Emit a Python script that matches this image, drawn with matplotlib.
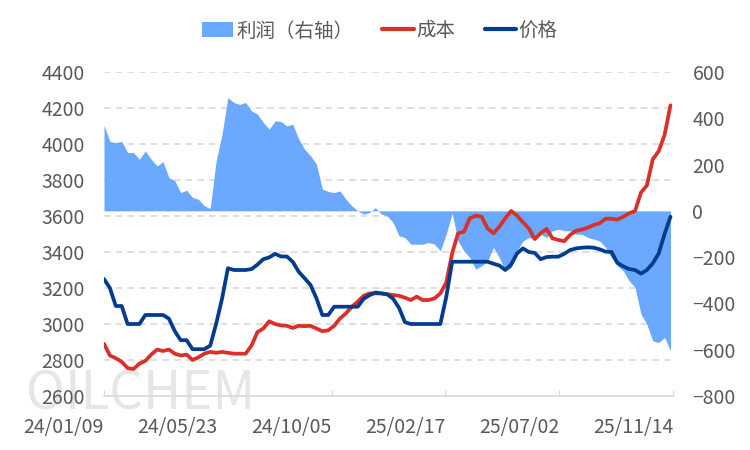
import numpy as np
import pandas as pd
import matplotlib
matplotlib.use("Agg")
import matplotlib.pyplot as plt
from matplotlib.patches import Patch
from matplotlib.lines import Line2D

plt.rcParams['font.family'] = ['Noto Sans CJK SC', 'DejaVu Sans']

# weekly samples
dates = pd.date_range('2024-01-09', periods=97, freq='7D')

profit = [370, 300, 295, 300, 252, 252, 223, 259, 223, 194,
          213, 144, 130, 79, 89, 58, 50, 22, 10, 215,
          331, 490, 468, 460, 468, 432, 418, 382, 353, 389,
          386, 367, 374, 310, 266, 238, 202, 94, 84, 79,
          86, 50, 22, 0, -14, -7, 14, -14, -22, -50,
          -108, -115, -144, -144, -144, -137, -144, -173, -100, -10,
          -130, -173, -202, -252, -238, -216, -158, -202, -259, -245,
          -173, -130, -115, -122, -101, -115, -86, -79, -86, -86,
          -101, -101, -115, -122, -130, -158, -202, -238, -259, -302,
          -331, -446, -490, -562, -569, -547, -605]

cost = [2890, 2825, 2810, 2790, 2755, 2750, 2780, 2795, 2830, 2858,
        2850, 2858, 2835, 2825, 2830, 2800, 2815, 2835, 2845, 2840,
        2845, 2840, 2835, 2835, 2835, 2880, 2955, 2975, 3015, 3000,
        2992, 2990, 2978, 2990, 2988, 2990, 2975, 2960, 2965, 2990,
        3031, 3059, 3096, 3124, 3157, 3170, 3170, 3170, 3165, 3161,
        3157, 3146, 3133, 3152, 3133, 3133, 3142, 3170, 3230, 3393,
        3504, 3513, 3587, 3602, 3596, 3531, 3504, 3541, 3587, 3628,
        3602, 3565, 3531, 3472, 3504, 3528, 3476, 3467, 3460, 3495,
        3518, 3525, 3535, 3550, 3560, 3585, 3585, 3580, 3596, 3615,
        3628, 3730, 3770, 3915, 3960, 4050, 4215]

price = [3250, 3200, 3100, 3100, 3000, 3000, 3000, 3050, 3050, 3050,
         3050, 3030, 2960, 2910, 2910, 2860, 2860, 2860, 2880, 3000,
         3140, 3310, 3300, 3300, 3300, 3305, 3330, 3360, 3370, 3390,
         3375, 3375, 3345, 3290, 3254, 3217, 3143, 3050, 3050, 3096,
         3096, 3096, 3096, 3096, 3140, 3160, 3175, 3170, 3165, 3140,
         3090, 3010, 3000, 3000, 3000, 3000, 3000, 3000, 3150, 3346,
         3346, 3346, 3346, 3346, 3346, 3346, 3335, 3325, 3300, 3330,
         3392, 3420, 3400, 3395, 3360, 3372, 3374, 3374, 3390, 3411,
         3420, 3424, 3426, 3424, 3415, 3402, 3400, 3340, 3320, 3305,
         3300, 3280, 3300, 3337, 3392, 3500, 3596]

tick_dates = pd.date_range('2024-01-09', periods=6, freq='135D')
tick_labels = [d.strftime('%y/%m/%d') for d in tick_dates]

c_area = '#6aa9ff'
c_cost = '#d9302a'
c_price = '#023c8c'
c_text = '#595959'

fig = plt.figure(figsize=(7.5, 4.5), dpi=100)

# watermark, kept under everything else
fig.text(26/750, 1-410/450, 'OILCHEM', fontsize=38, color='#e6e6e6', zorder=-5)

ax = fig.add_axes([104/750, 1-396/450, (673-104)/750, 324/450])
ax2 = ax.twinx()
ax3 = ax.twinx()

# left axis: grid + labels
ax.set_ylim(2600, 4400)
ax.set_yticks(np.arange(2600, 4401, 200))
ax.yaxis.grid(True, color='#d9d9d9', linestyle=(0, (4, 3)), linewidth=1.2)
ax.set_xlim(tick_dates[0], tick_dates[-1])
ax.set_xticks(tick_dates)
ax.set_xticklabels(tick_labels, ha='right')
ax.tick_params(axis='x', direction='in', length=4, color='#d9d9d9', labelsize=14, labelcolor=c_text, pad=15)
ax.tick_params(axis='y', length=0, labelsize=14, labelcolor=c_text, pad=14)
for s in ['top', 'left', 'right']:
    ax.spines[s].set_visible(False)
ax.spines['bottom'].set_color('#d9d9d9')
ax.spines['bottom'].set_linewidth(1.2)
ax.patch.set_visible(False)

# right axis: profit area
ax2.fill_between(dates, 0, profit, color=c_area, linewidth=0)
ax2.set_ylim(-800, 600)
ax2.set_yticks(np.arange(-800, 601, 200))
ax2.tick_params(axis='y', length=0, labelsize=14, labelcolor=c_text, pad=14)
for s in ['top', 'left', 'right', 'bottom']:
    ax2.spines[s].set_visible(False)

# lines on top, same scale as left axis
ax3.plot(dates, cost, color=c_cost, linewidth=2.7, solid_capstyle='round')
ax3.plot(dates, price, color=c_price, linewidth=2.7, solid_capstyle='round')
ax3.set_ylim(ax.get_ylim())
ax3.axis('off')

handles = [Patch(facecolor=c_area, edgecolor='none'),
           Line2D([], [], color=c_cost, linewidth=3, solid_capstyle='round'),
           Line2D([], [], color=c_price, linewidth=3, solid_capstyle='round')]
fig.legend(handles, ['利润（右轴）', '成本', '价格'], loc='center',
           bbox_to_anchor=(380/750, 1-31/450), ncol=3, frameon=False,
           fontsize=14, labelcolor=c_text, handlelength=1.6, handleheight=0.8,
           handletextpad=0.15, columnspacing=1.5)

fig.savefig('out.png', dpi=100)
